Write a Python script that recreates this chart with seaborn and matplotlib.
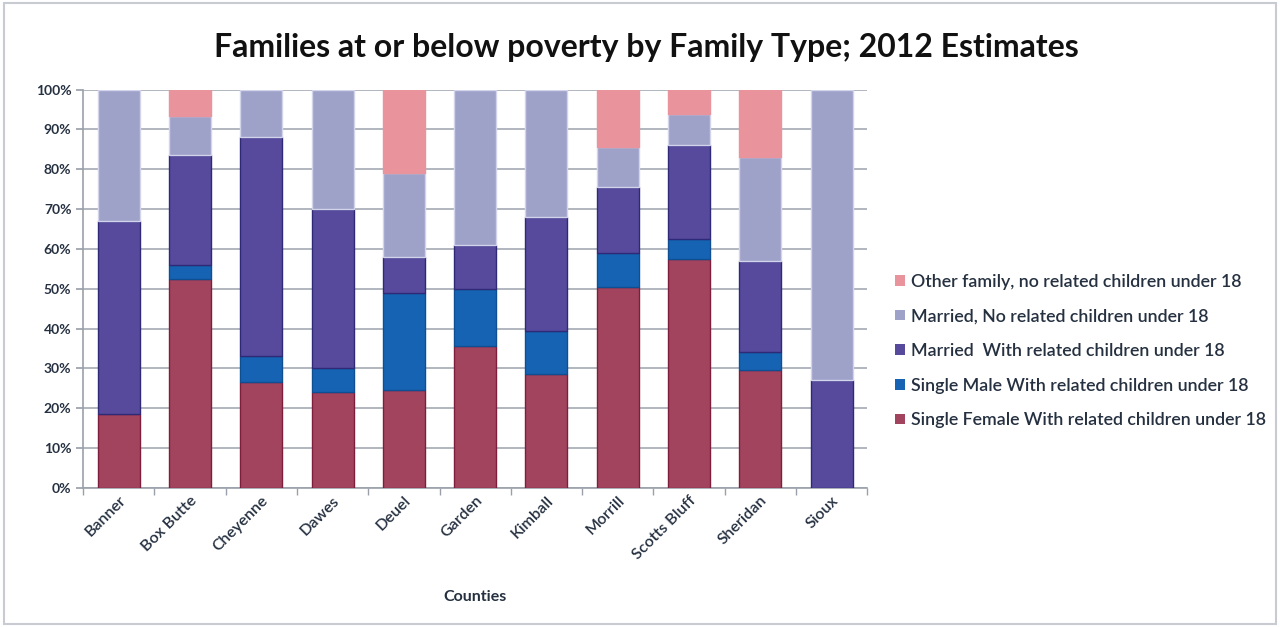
import numpy as np
import pandas as pd
import matplotlib
matplotlib.use("Agg")
import matplotlib.pyplot as plt
import seaborn as sns
from matplotlib.patches import Patch
from matplotlib.ticker import FixedLocator

counties = ["Banner", "Box Butte", "Cheyenne", "Dawes", "Deuel", "Garden",
            "Kimball", "Morrill", "Scotts Bluff", "Sheridan", "Sioux"]

# Percent of families at or below poverty, by family type (stacked bottom -> top)
single_female = [18.5, 52.5, 26.5, 24.0, 24.5, 35.5, 28.5, 50.5, 57.5, 29.5, 0.0]
single_male = [0.0, 3.5, 6.5, 6.0, 24.5, 14.5, 11.0, 8.5, 5.0, 4.5, 0.0]
married_with = [48.5, 27.5, 55.0, 40.0, 9.0, 11.0, 28.5, 16.5, 23.5, 23.0, 27.0]
married_no = [33.0, 10.0, 12.0, 30.0, 21.0, 39.0, 32.0, 10.0, 8.0, 26.0, 73.0]
other_family = [0.0, 6.5, 0.0, 0.0, 21.0, 0.0, 0.0, 14.5, 6.0, 17.0, 0.0]

series_names = [
    "Single Female With related children under 18",
    "Single Male With related children under 18",
    "Married  With related children under 18",
    "Married, No related children under 18",
    "Other family, no related children under 18",
]
series_values = [single_female, single_male, married_with, married_no, other_family]
fills = ["#a3445f", "#1763b3", "#574a9c", "#9ea2c9", "#e9939d"]
edges = ["#7d1f3c", "#0e4f93", "#2e2a78", "#d2d4ec", "#e9939d"]

y_ticks = list(range(0, 101, 10))
y_tick_labels = [f"{v}%" for v in y_ticks]

sns.set_theme(style="white")
plt.rcParams["font.family"] = ["Lato", "DejaVu Sans"]

fig = plt.figure(figsize=(12.8, 6.27), dpi=100)
ax = fig.add_axes([0.065, 0.222, 0.6125, 0.635])

text_col = "#253040"
bottom = np.zeros(len(counties))
for name, vals, fc, ec in zip(series_names, series_values, fills, edges):
    df = pd.DataFrame({"County": counties, "Share": vals})
    sns.barplot(data=df, x="County", y="Share", order=counties, bottom=bottom,
                color=fc, edgecolor=ec, linewidth=1.0, width=0.59,
                saturation=1, errorbar=None, ax=ax, zorder=3)
    bottom = bottom + np.array(vals)

# empty segments should leave no outline behind
for patch in ax.patches:
    if patch.get_height() == 0:
        patch.set_linewidth(0)

ax.set_ylim(0, 100)
ax.set_xlim(-0.5, len(counties) - 0.5)
ax.set_yticks(y_ticks)
ax.set_yticklabels(y_tick_labels, fontsize=10, fontweight="bold", color=text_col)
ax.yaxis.grid(True, color="#a4aab4", linewidth=1.2, zorder=0)
ax.set_axisbelow(True)

ax.tick_params(axis="x", length=0, pad=4)
ax.set_xticks(range(len(counties)))
ax.set_xticklabels(counties, rotation=45, ha="right", rotation_mode="anchor",
                   fontsize=11.5, fontweight="semibold", color=text_col)
ax.xaxis.set_minor_locator(FixedLocator(np.arange(-0.5, len(counties), 1.0)))
ax.tick_params(axis="x", which="minor", length=5, color="#9aa0aa", bottom=True)
ax.tick_params(axis="y", length=5, color="#9aa0aa", left=True)

for side in ["top", "right"]:
    ax.spines[side].set_visible(False)
for side in ["left", "bottom"]:
    ax.spines[side].set_color("#9aa0aa")
    ax.spines[side].set_linewidth(1.2)

ax.set_ylabel("")
ax.set_xlabel("Counties", fontsize=11.5, fontweight="bold", color=text_col, labelpad=20)

fig.suptitle("Families at or below poverty by Family Type; 2012 Estimates",
             x=0.505, y=0.948, fontsize=23, fontweight="bold", color="#111111")

handles = [Patch(facecolor=fc, edgecolor="none") for fc in fills]
ax.legend(handles[::-1], series_names[::-1], loc="center left",
          bbox_to_anchor=(1.015, 0.344), frameon=False,
          prop={"size": 12.8, "weight": "semibold"},
          handlelength=0.55, handleheight=0.55, handletextpad=0.35,
          labelspacing=1.05, labelcolor=text_col)

# thin light frame round the whole chart
fig.patches.append(plt.Rectangle((0.003, 0.005), 0.994, 0.99, transform=fig.transFigure,
                                 fill=False, edgecolor="#c8ccd2", linewidth=1.5))

fig.savefig("out.png", dpi=100, facecolor="white")
